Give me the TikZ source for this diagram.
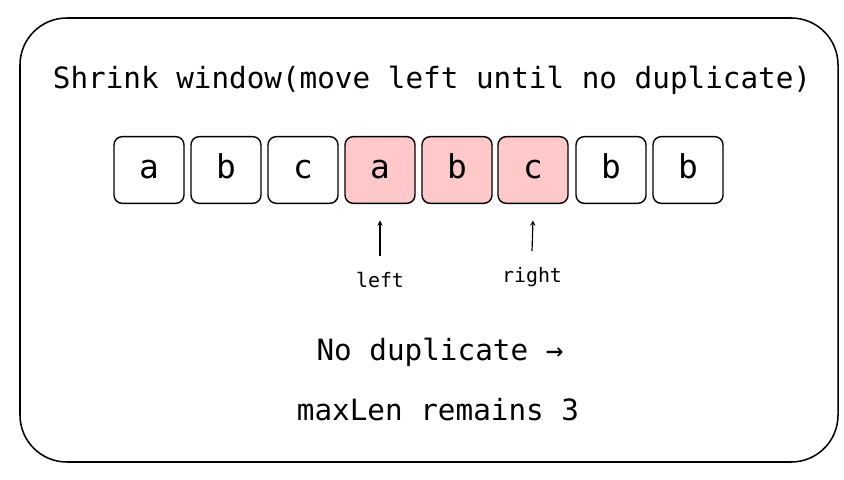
\documentclass[tikz,border=0pt]{standalone}
\usepackage{fontspec}
\setmainfont{DejaVu Sans Mono}
\usetikzlibrary{positioning}
\definecolor{winpink}{HTML}{FFC9C9}
\tikzset{
 cell/.style={draw,line width=1.2pt,rounded corners=7pt,minimum width=2.1cm,minimum height=2cm,text height=0.5cm,text depth=0cm,font=\fontsize{28}{30}\selectfont},
 ptr/.style={->,>=stealth,line width=1pt},
 lbl/.style={font=\fontsize{17}{19}\selectfont}
}
\begin{document}
\begin{tikzpicture}[x=0.03cm,y=-0.03cm]
\useasboundingbox (0,0) rectangle (844,480);
\draw[line width=1.3pt,rounded corners=40pt] (20,18) rectangle (838,462);
\node[font=\fontsize{25}{27}\selectfont] (title) at (432,80) {Shrink window(move left until no duplicate)};

\foreach \x/\ch/\fl [count=\i] in {149/a/white,226/b/white,303/c/white,380/a/winpink,457/b/winpink,533/c/winpink,611/b/white,688/b/white}
\node[cell,fill=\fl] (c\i) at (\x,170) {\ch};

\node[lbl] (left) at (380,280) {left};
\node[lbl] (right) at (532,277) {right};
\draw[ptr] (left.north) ++(0,-12) coordinate (lt) -- ([yshift=-14pt]c4.south);
\draw[ptr] (right.north) ++(0,-12) coordinate (rt) -- ([yshift=-14pt]c6.south);

\node[font=\fontsize{25}{27}\selectfont] (nodup) at (440,352) {No duplicate →};
\node[font=\fontsize{25}{27}\selectfont] (maxl) at (438,410) {maxLen remains 3};
\end{tikzpicture}
\end{document}
